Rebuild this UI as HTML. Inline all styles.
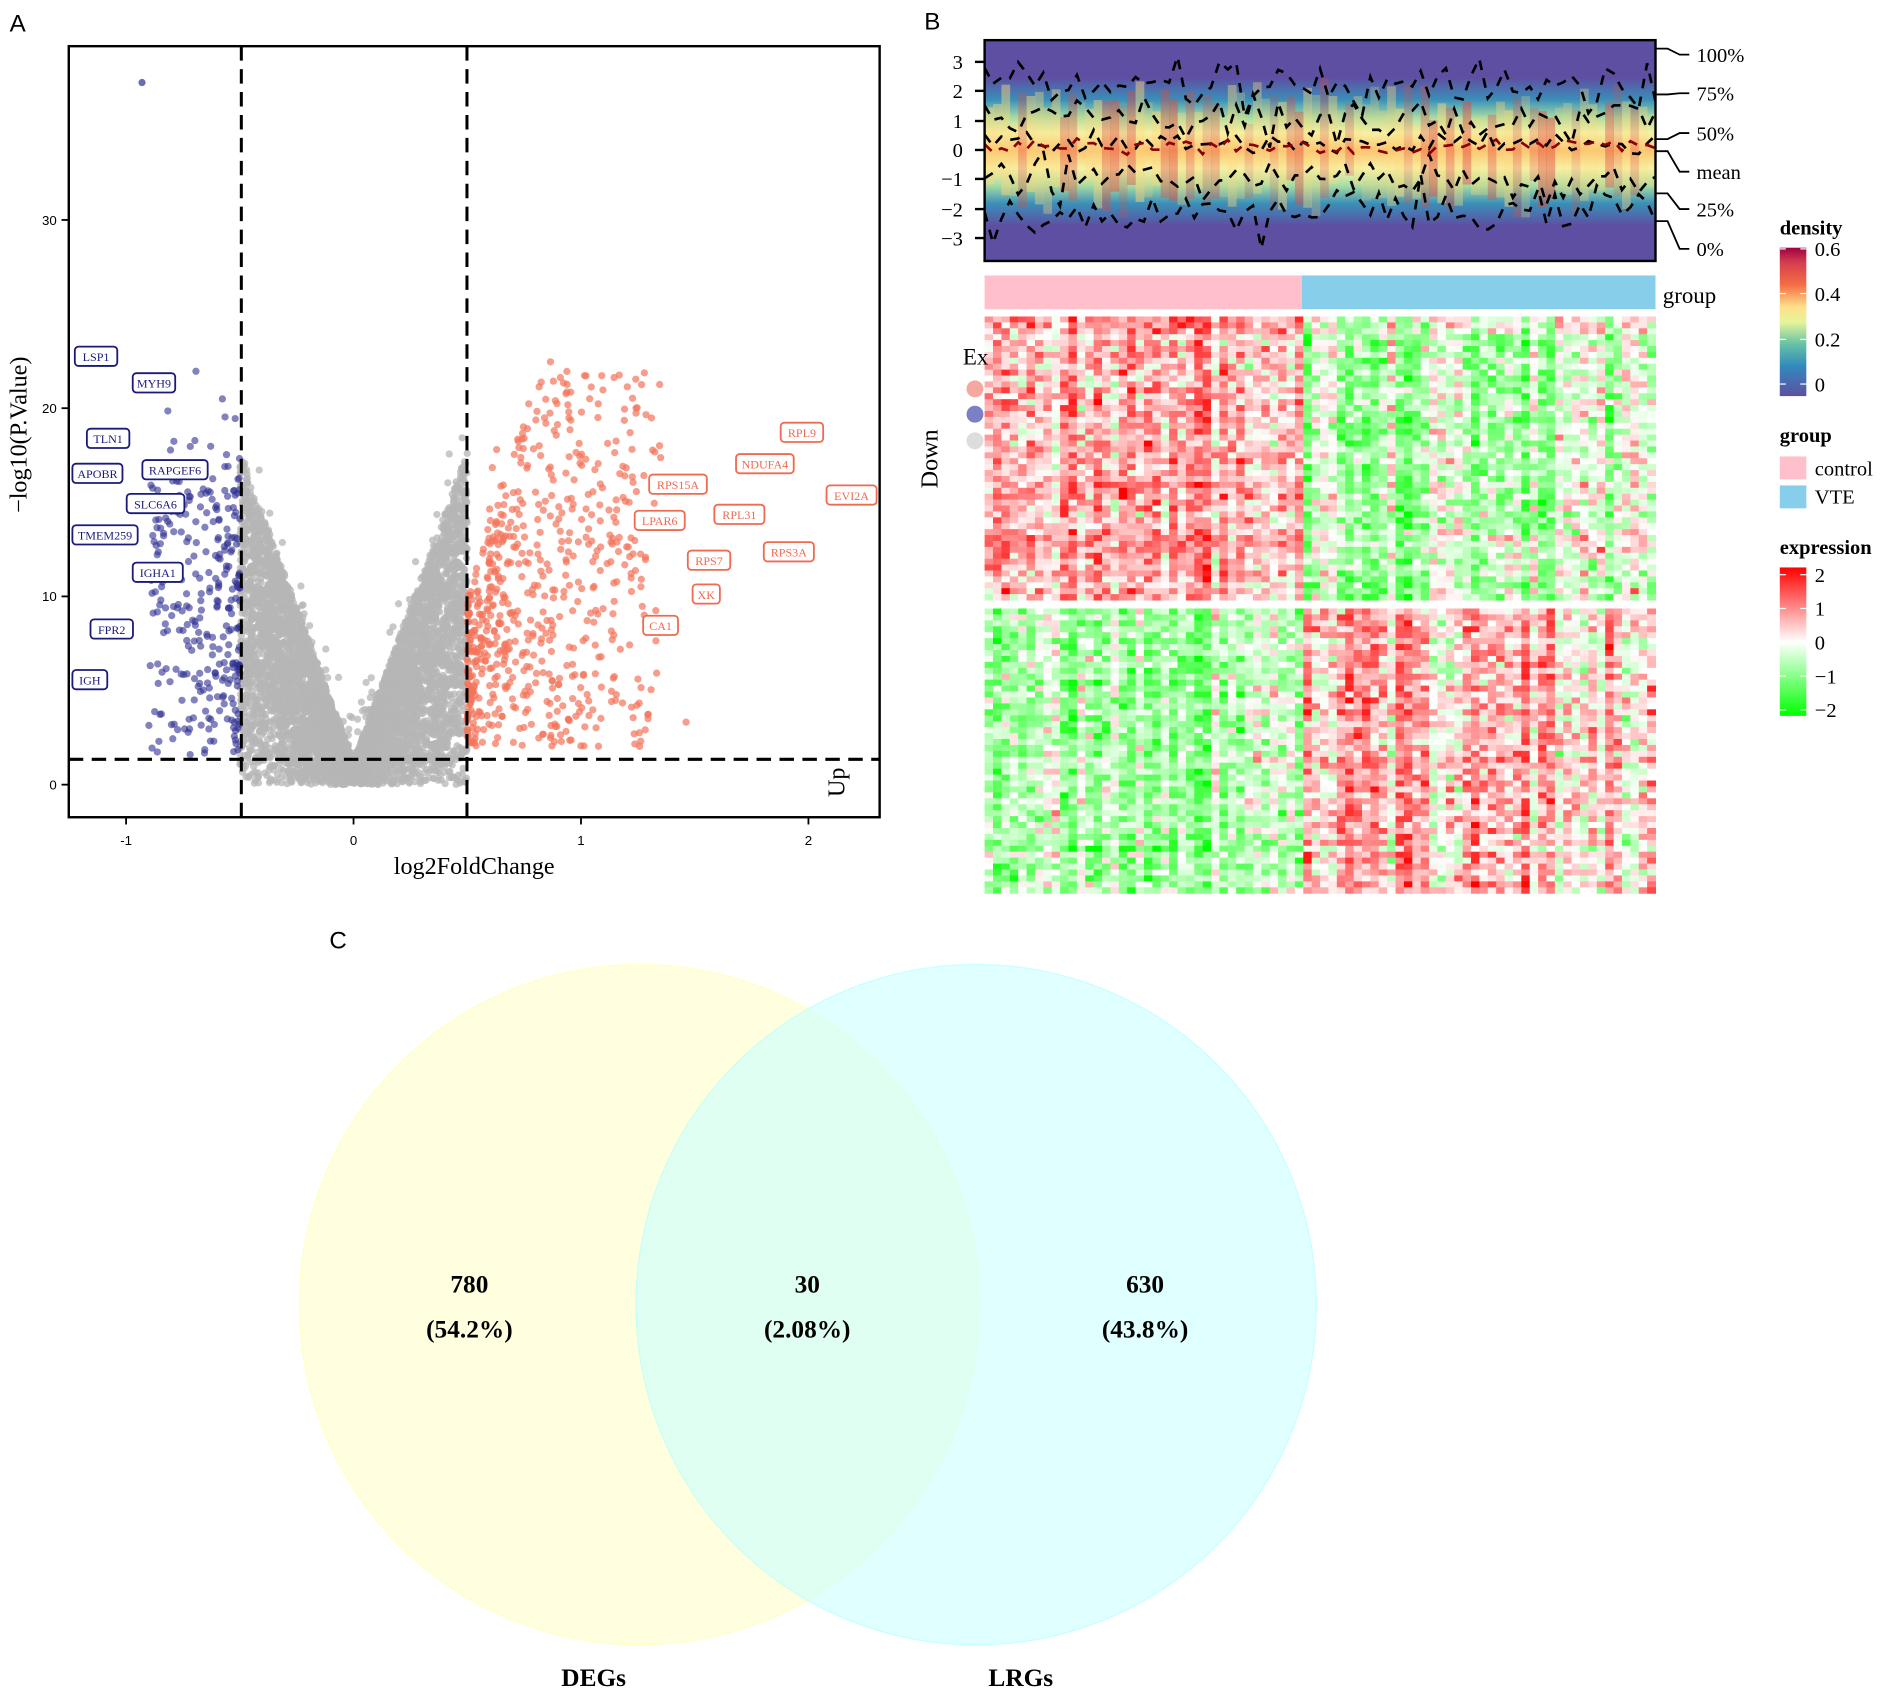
<!DOCTYPE html>
<html><head><meta charset="utf-8"><style>
html,body{margin:0;padding:0;background:#fff;}
svg{display:block;}
.s{font-family:"Liberation Serif",serif;}
.a{font-family:"Liberation Sans",sans-serif;}
</style></head><body>
<svg id="g" width="1892" height="1696" viewBox="0 0 1568 1405" xmlns="http://www.w3.org/2000/svg">
<defs>
<linearGradient id="dens" x1="0" y1="0" x2="0" y2="1">
<stop offset="0" stop-color="#5e4fa2"/>
<stop offset="0.17" stop-color="#5e4fa2"/>
<stop offset="0.27" stop-color="#3a8fb8"/>
<stop offset="0.35" stop-color="#a5dba4"/>
<stop offset="0.42" stop-color="#f5f9b0"/>
<stop offset="0.5" stop-color="#fdbf6f"/>
<stop offset="0.58" stop-color="#f5f9b0"/>
<stop offset="0.66" stop-color="#a5dba4"/>
<stop offset="0.74" stop-color="#3a8fb8"/>
<stop offset="0.84" stop-color="#5e4fa2"/>
<stop offset="1" stop-color="#5e4fa2"/>
</linearGradient>
<linearGradient id="dleg" x1="0" y1="1" x2="0" y2="0">
<stop offset="0" stop-color="#5e4fa2"/><stop offset="0.2" stop-color="#3288bd"/>
<stop offset="0.35" stop-color="#66c2a5"/><stop offset="0.5" stop-color="#e6f598"/>
<stop offset="0.6" stop-color="#fee08b"/><stop offset="0.75" stop-color="#f46d43"/>
<stop offset="0.9" stop-color="#d53e4f"/><stop offset="1" stop-color="#9e0142"/>
</linearGradient>
<linearGradient id="eleg" x1="0" y1="0" x2="0" y2="1">
<stop offset="0" stop-color="#ff0000"/><stop offset="0.5" stop-color="#ffffff"/><stop offset="1" stop-color="#00ff00"/>
</linearGradient>
</defs>
<g id="vol"></g>
<g id="hm"></g>
<text x="8" y="26" class="a" font-size="20">A</text>
<text x="766" y="24" class="a" font-size="20">B</text>
<text x="273" y="786" class="a" font-size="20">C</text>
<circle cx="530" cy="1081" r="282" fill="#ffffcc" fill-opacity="0.6" stroke="#ffffa0" stroke-opacity="0.5"/>
<circle cx="809" cy="1081" r="282" fill="#ccffff" fill-opacity="0.6" stroke="#a0ffff" stroke-opacity="0.5"/>
<g class="s" font-size="21" font-weight="bold" text-anchor="middle">
<text x="389" y="1071">780</text><text x="389" y="1108">(54.2%)</text>
<text x="669" y="1071">30</text><text x="669" y="1108">(2.08%)</text>
<text x="949" y="1071">630</text><text x="949" y="1108">(43.8%)</text>
<text x="492" y="1397">DEGs</text><text x="846" y="1397">LRGs</text>
</g>
</svg>
<script>
(function(){
var s=123456789;function r(){s^=s<<13;s^=s>>>17;s^=s<<5;return ((s>>>0)%100000)/100000;}
function n(){return (r()+r()+r()+r()-2)/1.15;}
var out=[];
var X=function(v){return 293+188.5*v;},Y=function(v){return 650-15.6*v;};
out.push('<rect x="57" y="38" width="672" height="639" fill="#fff"/>');
var pts=[];
for(var i=0;i<6000;i++){var x=(r()*2-1)*0.5;var m=Math.abs(x)*33+1.2;var y=Math.pow(r(),0.8)*m;if(r()<0.03)y+=r()*3;pts.push('<circle cx="'+X(x).toFixed(1)+'" cy="'+Y(y).toFixed(1)+'" r="3" fill="#b5b5b5" fill-opacity="0.75"/>');}
for(var i=0;i<650;i++){var x=0.5+Math.pow(r(),1.7)*0.85;if(r()<0.05)x+=r()*0.5;var lim=Math.min(20,8+(x-0.5)*40);var y=2+r()*lim;if(r()<0.04)y+=3;pts.push('<circle cx="'+X(Math.min(x,2.2)).toFixed(1)+'" cy="'+Y(y).toFixed(1)+'" r="3" fill="#f4735a" fill-opacity="0.7"/>');}
for(var i=0;i<300;i++){var x=-0.5-Math.pow(r(),1.6)*0.4;var y=1.5+r()*15+(r()<0.25?r()*6:0);pts.push('<circle cx="'+X(x).toFixed(1)+'" cy="'+Y(y).toFixed(1)+'" r="3" fill="#2e3192" fill-opacity="0.6"/>');}
pts.push('<circle cx="'+X(-0.93)+'" cy="'+Y(37.3)+'" r="3" fill="#2e3192" fill-opacity="0.7"/>');
out.push(pts.join(''));
out.push('<rect x="57" y="38" width="672" height="639" fill="none" stroke="#000" stroke-width="2"/>');
out.push('<g stroke="#000" stroke-width="2.5" stroke-dasharray="12,7"><line x1="200" y1="38" x2="200" y2="677"/><line x1="387" y1="38" x2="387" y2="677"/><line x1="57" y1="629" x2="729" y2="629"/></g>');
[0,10,20,30].forEach(function(v){out.push('<line x1="51" x2="57" y1="'+Y(v)+'" y2="'+Y(v)+'" stroke="#000" stroke-width="1.5"/><text x="47" y="'+(Y(v)+4)+'" class="a" font-size="11" text-anchor="end">'+v+'</text>');});
[-1,0,1,2].forEach(function(v){out.push('<line y1="677" y2="683" x1="'+X(v)+'" x2="'+X(v)+'" stroke="#000" stroke-width="1.5"/><text y="700" x="'+X(v)+'" class="a" font-size="11" text-anchor="middle">'+(v<0?'-1':v)+'</text>');});
out.push('<text x="393" y="724" class="s" font-size="20" text-anchor="middle">log2FoldChange</text>');
out.push('<text transform="translate(22,360) rotate(-90)" class="s" font-size="20" text-anchor="middle">−log10(P.Value)</text>');
out.push('<text transform="translate(700,648) rotate(-90)" class="s" font-size="20" text-anchor="middle">Up</text>');
var bl=[["LSP1",62,295],["MYH9",110,317],["TLN1",72,363],["APOBR",60,392],["RAPGEF6",118,389],["SLC6A6",105,417],["TMEM259",60,443],["IGHA1",110,474],["FPR2",75,521],["IGH",60,563]];
var rd=[["RPL9",647,358],["NDUFA4",610,384],["EVI2A",685,410],["RPS15A",538,401],["RPL31",592,426],["LPAR6",526,431],["RPS3A",633,457],["RPS7",570,464],["XK",574,492],["CA1",533,518]];
function lab(a,c){a.forEach(function(t){var w=t[0].length*6.3+10;out.push('<rect x="'+t[1]+'" y="'+(t[2]-8)+'" width="'+w+'" height="16" rx="3" fill="#fff" stroke="'+c+'" stroke-width="1.5"/><text x="'+(t[1]+w/2)+'" y="'+(t[2]+4)+'" class="s" font-size="10" fill="'+c+'" text-anchor="middle">'+t[0]+'</text>');});}
lab(bl,"#1a1a7a");lab(rd,"#f06a50");
document.getElementById('vol').innerHTML=out.join('');
var h=[];
h.push('<rect x="816" y="33" width="556" height="183" fill="url(#dens)"/>');
var nc=80,cw=556/nc;
for(var c=0;c<nc;c++){var sh=(r()-0.5)*20;var sc=0.6+r()*0.5;h.push('<rect x="'+(816+c*cw).toFixed(2)+'" y="'+(124+sh-92*sc*0.5).toFixed(1)+'" width="'+(cw+0.3).toFixed(2)+'" height="'+(92*sc).toFixed(1)+'" fill="'+(r()<0.4?'#e34a3f':'#fdd67a')+'" fill-opacity="'+(0.2+r()*0.3).toFixed(2)+'"/>');}
var qs=[[2.2,0.9],[1.1,0.7],[0.2,0.35],[-1.0,0.7],[-2.1,0.9]];
qs.forEach(function(q){var d='';for(var c=0;c<=nc;c++){var v=q[0]+n()*q[1];var yy=124-24.5*v;d+=(c?'L':'M')+(816+c*cw).toFixed(1)+','+Math.max(33,Math.min(216,yy)).toFixed(1);}h.push('<path d="'+d+'" fill="none" stroke="#000" stroke-width="2.2" stroke-dasharray="8,7"/>');});
var d='';for(var c=0;c<=nc;c++){var v=0.1+n()*0.25;d+=(c?'L':'M')+(816+c*cw).toFixed(1)+','+(124-24.5*v).toFixed(1);}
h.push('<path d="'+d+'" fill="none" stroke="#8b0000" stroke-width="2.2" stroke-dasharray="8,7"/>');
h.push('<rect x="816" y="33" width="556" height="183" fill="none" stroke="#000" stroke-width="2"/>');
[[3,51],[2,75],[1,100],[0,124],[-1,148],[-2,173],[-3,197]].forEach(function(t){h.push('<line x1="808" x2="816" y1="'+t[1]+'" y2="'+t[1]+'" stroke="#000" stroke-width="2"/><text x="798" y="'+(t[1]+6)+'" class="s" font-size="17" text-anchor="end">'+(t[0]<0?'−'+(-t[0]):t[0])+'</text>');});
var rl=[["100%",45,40],["75%",77,78],["50%",110,115],["mean",142,125],["25%",173,160],["0%",206,183]];
rl.forEach(function(t){h.push('<path d="M1372,'+t[2]+' L1382,'+t[2]+' L1392,'+t[1]+' L1400,'+t[1]+'" fill="none" stroke="#000" stroke-width="1.5"/><text x="1406" y="'+(t[1]+6)+'" class="s" font-size="17">'+t[0]+'</text>');});
h.push('<rect x="816" y="228" width="263" height="28" fill="#ffc0cb"/><rect x="1079" y="228" width="293" height="28" fill="#87ceeb"/>');
h.push('<text x="1378" y="251" class="s" font-size="19">group</text>');
function col(v){v=Math.max(-2,Math.min(2,v));if(v>=0){var t=v/2;var g=Math.round(255*(1-t));return 'rgb(255,'+g+','+g+')';}var t=-v/2;var g=Math.round(255*(1-t));return 'rgb('+g+',255,'+g+')';}
var ncol=80,cw2=556/ncol;var cb=[];for(var c=0;c<ncol;c++)cb.push(n()*0.6);
function block(y0,y1,rows,sign){var rh=(y1-y0)/rows;for(var i=0;i<rows;i++){var rb=n()*0.3;for(var c=0;c<ncol;c++){var ctrl=c<38;var base=(ctrl?0.6:-0.4)*sign+cb[c]*sign;var v=base+rb+n()*0.9;h.push('<rect x="'+(816+c*cw2).toFixed(2)+'" y="'+(y0+i*rh).toFixed(2)+'" width="'+(cw2+0.4).toFixed(2)+'" height="'+(rh+0.4).toFixed(2)+'" fill="'+col(v)+'"/>');}}}
block(262,497,48,1);block(504,740,48,-1);
h.push('<text x="798" y="302" class="s" font-size="19">Ex</text><circle cx="808" cy="322" r="7" fill="#f4a8a0"/><circle cx="808" cy="343" r="7" fill="#7b7fc4"/><circle cx="808" cy="365" r="7" fill="#ddd"/>');
h.push('<text transform="translate(777,380) rotate(-90)" class="s" font-size="20" text-anchor="middle">Down</text>');
h.push('<text x="1475" y="194" class="s" font-size="17" font-weight="bold">density</text><rect x="1475" y="205" width="22" height="123" fill="url(#dleg)"/>');
[["0.6",211],["0.4",248],["0.2",286],["0",323]].forEach(function(t){h.push('<line x1="1475" x2="1480" y1="'+(t[1]-5)+'" y2="'+(t[1]-5)+'" stroke="#fff"/><line x1="1492" x2="1497" y1="'+(t[1]-5)+'" y2="'+(t[1]-5)+'" stroke="#fff"/><text x="1504" y="'+(t[1]+1)+'" class="s" font-size="17">'+t[0]+'</text>');});
h.push('<text x="1475" y="366" class="s" font-size="17" font-weight="bold">group</text><rect x="1475" y="378" width="22" height="19" fill="#ffc0cb"/><rect x="1475" y="402" width="22" height="19" fill="#87ceeb"/><text x="1504" y="394" class="s" font-size="17">control</text><text x="1504" y="417" class="s" font-size="17">VTE</text>');
h.push('<text x="1475" y="459" class="s" font-size="17" font-weight="bold">expression</text><rect x="1475" y="470" width="22" height="123" fill="url(#eleg)"/>');
[["2",476],["1",504],["0",532],["−1",560],["−2",588]].forEach(function(t){h.push('<line x1="1475" x2="1480" y1="'+t[1]+'" y2="'+t[1]+'" stroke="#fff"/><line x1="1492" x2="1497" y1="'+t[1]+'" y2="'+t[1]+'" stroke="#fff"/><text x="1504" y="'+(t[1]+6)+'" class="s" font-size="17">'+t[0]+'</text>');});
document.getElementById('hm').innerHTML=h.join('');
})();
</script>
</body></html>
